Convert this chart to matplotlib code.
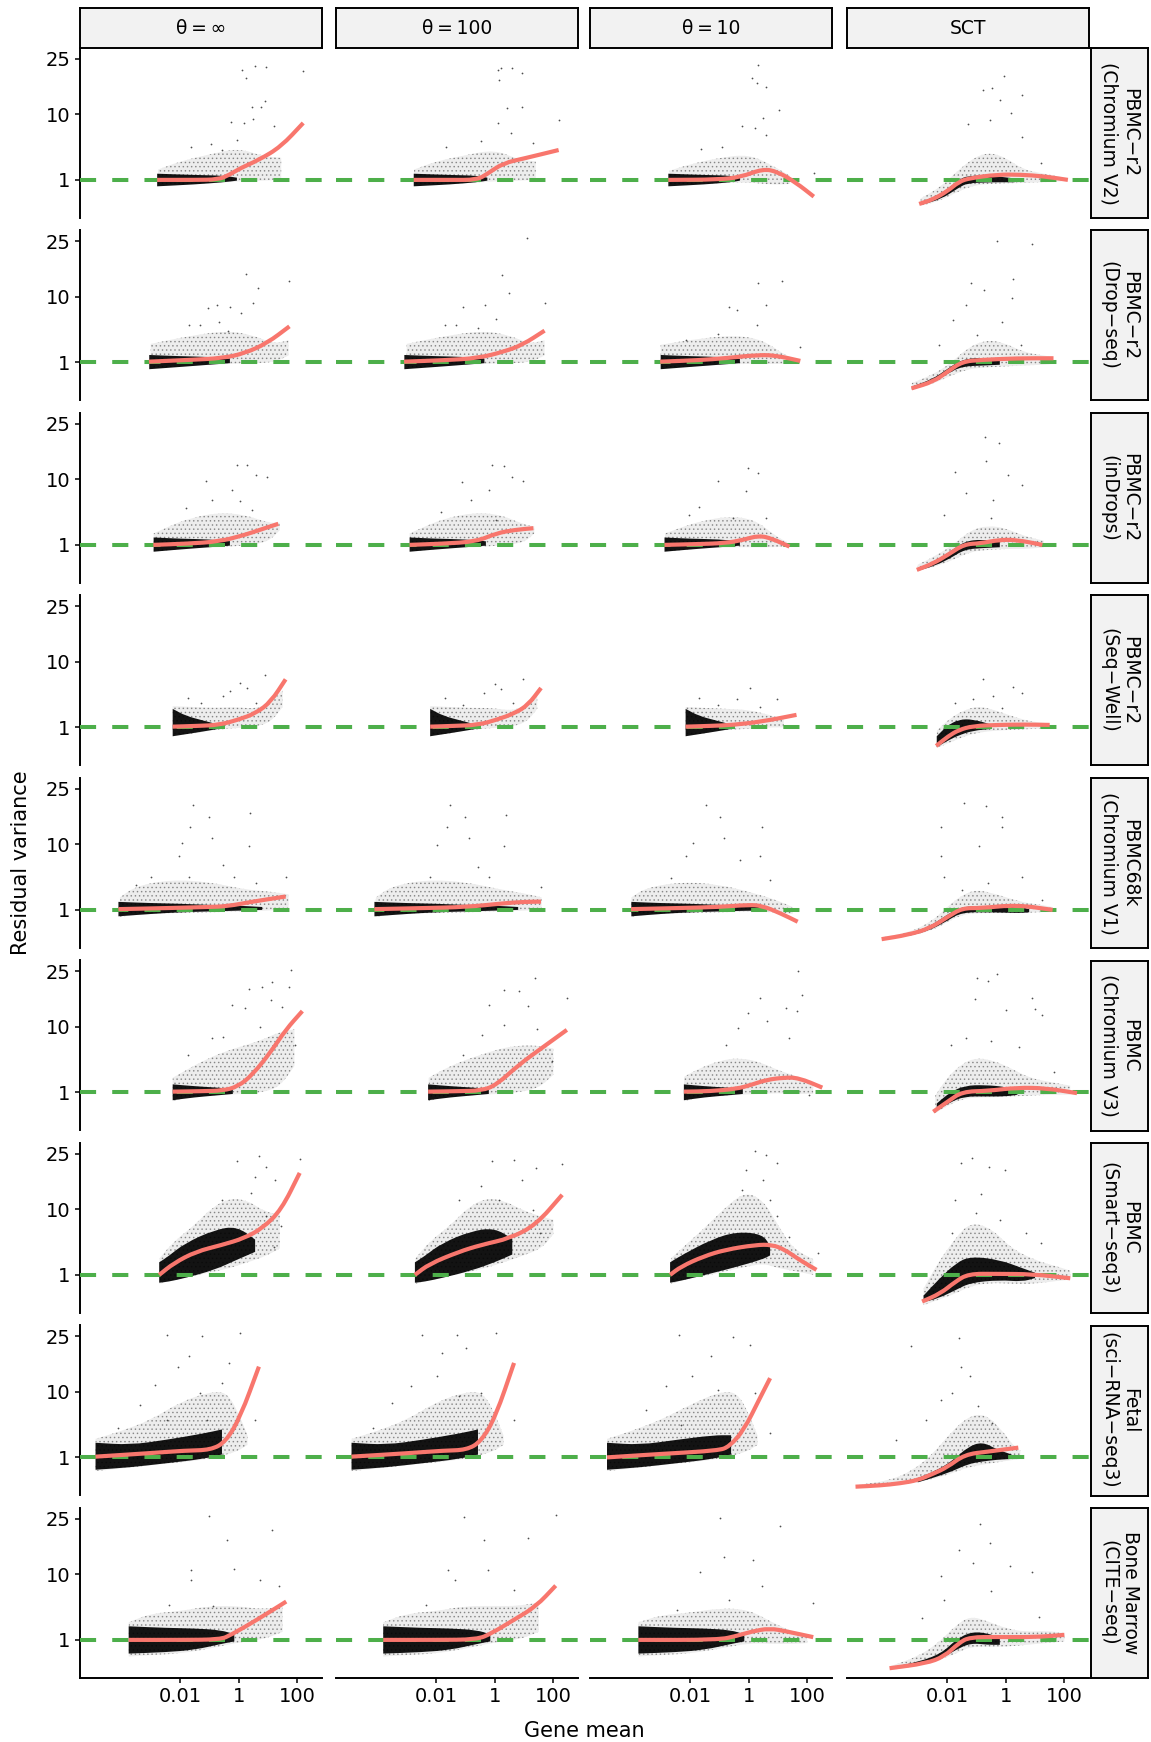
import matplotlib.pyplot as plt
import numpy as np
from matplotlib.ticker import NullLocator
from matplotlib.path import Path
from matplotlib.patches import PathPatch

plt.rcParams['font.family'] = ['DejaVu Sans']
plt.rcParams['hatch.linewidth'] = 0.6

col_labels = ['\u03b8\u2009=\u2009\u221e', '\u03b8\u2009=\u2009100', '\u03b8\u2009=\u200910', 'SCT']
row_labels = ['PBMC\u2212r2\n(Chromium V2)', 'PBMC\u2212r2\n(Drop\u2212seq)', 'PBMC\u2212r2\n(inDrops)',
              'PBMC\u2212r2\n(Seq\u2212Well)', 'PBMC68k\n(Chromium V1)', 'PBMC\n(Chromium V3)',
              'PBMC\n(Smart\u2212seq3)', 'Fetal\n(sci\u2212RNA\u2212seq3)', 'Bone Marrow\n(CITE\u2212seq)']
y_ticks = [1, 10, 25]
x_ticks = [0.01, 1, 100]
x_tick_labels = ['0.01', '1', '100']

# smooth fit (red line): log10 gene mean and residual variance, [row][col]
fit_logmean = [
    [[-2.78, -1.5, -0.7, -0.32, 0.06, 0.69, 1.44, 2.2], [-2.76, -1.5, -0.6, -0.22, 0.29, 1.04, 2.18],
     [-2.74, -1.04, -0.28, 0.48, 0.98, 1.61, 2.22], [-2.95, -2.5, -2.0, -1.59, -1.22, -0.3, 0.5, 1.3, 2.12]],
    [[-3.06, -1.68, -0.54, 0.21, 0.97, 1.73], [-3.09, -1.7, -0.57, 0.32, 0.95, 1.7],
     [-3.02, -1.7, -0.78, 0.33, 0.95, 1.76], [-3.21, -2.47, -1.97, -1.48, -0.86, 0.38, 1.63]],
    [[-2.91, -1.8, -0.67, 0.21, 0.72, 1.35], [-2.9, -1.8, -0.63, 0.06, 0.69, 1.32],
     [-2.87, -1.8, -0.8, -0.2, 0.35, 0.8, 1.39], [-3.03, -2.47, -1.97, -1.41, -0.86, -0.24, 0.38, 1.25]],
    [[-2.25, -1.4, -0.67, -0.03, 0.59, 1.1, 1.6], [-2.2, -1.4, -0.57, 0.06, 0.69, 1.14, 1.58],
     [-2.15, -1.3, -0.53, 0.45, 1.63], [-2.37, -1.97, -1.6, -1.1, -0.24, 0.6, 1.5]],
    [[-4.1, -2.5, -1.05, -0.4, 0.47, 1.6], [-4.1, -2.5, -0.94, 0.32, 1.0, 1.58],
     [-4.01, -2.5, -1.0, -0.04, 0.45, 1.08, 1.67], [-4.23, -3.34, -2.59, -1.97, -1.48, -0.86, 0.38, 1.6]],
    [[-2.25, -1.3, -0.54, -0.03, 0.47, 1.1, 1.6, 2.17], [-2.27, -1.3, -0.44, 0.06, 0.82, 1.58, 2.46],
     [-2.21, -1.3, -0.41, 0.09, 0.6, 1.2, 1.7, 2.51], [-2.47, -1.97, -1.48, -0.61, 0.38, 1.37, 2.43]],
    [[-2.71, -2.21, -1.46, -0.57, 0.19, 0.82, 1.45, 2.08], [-2.72, -2.23, -1.23, -0.47, 0.54, 1.42, 2.3],
     [-2.68, -2.3, -1.54, -0.79, 0.22, 0.79, 1.23, 1.73, 2.31], [-2.85, -2.22, -1.72, -1.27, -0.33, 0.93, 2.2]],
    [[-4.88, -3.09, -1.83, -0.95, -0.44, 0.06, 0.69], [-4.88, -2.99, -1.73, -0.97, -0.47, 0.03, 0.66],
     [-4.83, -2.93, -1.04, -0.66, -0.16, 0.35, 0.73], [-5.12, -4.3, -3.6, -3.0, -2.5, -2.0, -1.4, -0.6, 0.43]],
    [[-3.75, -2.0, -0.63, -0.26, 0.62, 1.62], [-3.8, -2.0, -0.6, -0.1, 0.65, 1.4, 2.08],
     [-3.76, -1.03, -0.41, 0.09, 0.71, 1.33, 2.2], [-3.96, -2.72, -2.1, -1.6, -1.23, -0.24, 1.0, 2.0]],
]
fit_resvar = [
    [[1.0, 1.0, 1.02, 1.36, 1.93, 2.76, 4.4, 8.3], [1.0, 1.0, 1.0, 1.49, 2.41, 2.95, 3.95],
     [1.0, 1.02, 1.19, 1.86, 1.62, 0.83, 0.2], [0.042, 0.12, 0.38, 0.89, 1.12, 1.38, 1.38, 1.25, 1.0]],
    [[1.05, 1.17, 1.3, 1.7, 2.68, 4.8], [1.05, 1.15, 1.3, 1.84, 2.5, 4.2],
     [1.05, 1.15, 1.3, 1.56, 1.5, 1.1], [0.02, 0.13, 0.49, 1.05, 1.17, 1.29, 1.29]],
    [[1.0, 1.08, 1.23, 1.77, 2.24, 2.88], [1.0, 1.08, 1.23, 1.92, 2.24, 2.41],
     [1.0, 1.05, 1.12, 1.35, 1.72, 1.45, 0.89], [0.03, 0.15, 0.45, 1.05, 1.1, 1.36, 1.36, 1.0]],
    [[1.05, 1.1, 1.17, 1.56, 2.16, 3.43, 6.7], [1.05, 1.1, 1.17, 1.56, 2.16, 3.05, 5.3],
     [1.05, 1.1, 1.17, 1.42, 2.0], [0.15, 0.49, 0.84, 1.1, 1.17, 1.2, 1.17]],
    [[1.05, 1.12, 1.2, 1.25, 1.62, 2.08], [1.05, 1.12, 1.2, 1.49, 1.6, 1.62],
     [1.05, 1.12, 1.2, 1.36, 1.3, 0.79, 0.37], [0.001, 0.03, 0.15, 0.6, 1.12, 1.12, 1.36, 1.0]],
    [[1.05, 1.08, 1.12, 1.42, 2.5, 5.5, 9.4, 13.6], [1.05, 1.08, 1.12, 1.56, 3.65, 6.0, 9.4],
     [1.05, 1.08, 1.25, 1.56, 2.0, 2.22, 2.2, 1.34], [0.13, 0.49, 1.05, 1.1, 1.34, 1.3, 0.95]],
    [[1.0, 1.93, 3.13, 3.96, 4.9, 6.5, 9.9, 19.1], [1.0, 1.85, 3.1, 3.96, 4.9, 7.1, 13.3],
     [1.0, 1.63, 2.6, 3.36, 3.96, 4.0, 3.36, 2.24, 1.36], [0.014, 0.15, 0.6, 1.07, 1.07, 1.05, 0.79]],
    [[1.05, 1.29, 1.5, 1.55, 2.3, 5.5, 16.0], [1.05, 1.29, 1.5, 1.55, 2.3, 5.5, 17.0],
     [1.0, 1.25, 1.5, 1.84, 3.65, 8.4, 13.1], [0.001, 0.005, 0.02, 0.06, 0.2, 0.45, 1.2, 1.42, 1.75]],
    [[1.0, 1.0, 1.02, 1.36, 2.76, 5.14], [1.0, 1.0, 1.02, 1.49, 2.76, 4.4, 7.8],
     [1.0, 1.0, 1.28, 1.62, 1.92, 1.62, 1.19], [0.004, 0.05, 0.2, 0.8, 1.19, 1.2, 1.19, 1.36]],
]

# dense core of the gene cloud: log10 mean with lower / upper residual variance
core_logmean = [
    [[-2.78, -1.5, -0.5, -0.06], [-2.76, -1.5, -0.6, -0.25], [-2.74, -1.5, -0.6, -0.3], [-2.9, -2.2, -1.6, -1.3, -0.5, 0.3]],
    [[-3.05, -2.0, -1.0, -0.3], [-3.08, -2.0, -1.0, -0.35], [-3.0, -2.0, -1.0, -0.3], [-3.2, -2.5, -2.0, -1.5, -0.8, -0.2]],
    [[-2.9, -2.0, -1.0, -0.3], [-2.9, -2.0, -1.0, -0.3], [-2.87, -2.0, -1.0, -0.3], [-3.0, -2.4, -1.9, -1.4, -0.8, -0.2]],
    [[-2.25, -1.8, -1.2, -0.7], [-2.2, -1.75, -1.15, -0.65], [-2.15, -1.7, -1.1, -0.6], [-2.35, -2.0, -1.6, -1.1, -0.5]],
    [[-4.1, -3.0, -2.0, -1.0, 0.0, 0.8], [-4.1, -3.0, -2.0, -1.0, 0.0, 0.8], [-4.0, -3.0, -2.0, -1.0, 0.0, 0.6],
     [-3.3, -2.6, -2.0, -1.5, -0.5, 0.5, 0.8]],
    [[-2.25, -1.5, -0.8, -0.2], [-2.27, -1.5, -0.8, -0.2], [-2.21, -1.5, -0.8, -0.2], [-2.35, -1.9, -1.4, -0.7, 0.0, 0.4]],
    [[-2.71, -2.4, -1.83, -0.82, -0.07, 0.56], [-2.72, -2.4, -1.8, -0.8, 0.0, 0.6], [-2.68, -2.3, -1.28, -0.41, 0.48, 0.73],
     [-2.8, -2.3, -1.7, -1.2, -0.2, 0.56, 1.0]],
    [[-4.88, -3.7, -2.46, -1.2, -0.57], [-4.88, -3.7, -2.46, -1.2, -0.57], [-4.83, -3.7, -2.46, -1.2, -0.6],
     [-3.0, -2.4, -1.8, -1.3, -0.8, -0.3, 0.2]],
    [[-3.75, -2.5, -1.5, -0.6, -0.15], [-3.8, -2.5, -1.5, -0.6, -0.15], [-3.76, -2.5, -1.5, -0.6, -0.15],
     [-3.9, -3.0, -2.2, -1.7, -1.2, -0.6, -0.2]],
]
core_lo = [
    [[0.62, 0.72, 0.85, 0.95], [0.62, 0.72, 0.85, 0.95], [0.62, 0.72, 0.85, 0.95], [0.03, 0.13, 0.55, 0.8, 0.85, 0.85]],
    [[0.6, 0.72, 0.85, 0.95], [0.6, 0.72, 0.85, 0.95], [0.6, 0.72, 0.85, 0.95], [0.01, 0.1, 0.38, 0.75, 0.8, 0.85]],
    [[0.6, 0.72, 0.85, 0.95], [0.6, 0.72, 0.85, 0.95], [0.6, 0.72, 0.85, 0.95], [0.02, 0.1, 0.3, 0.72, 0.8, 0.85]],
    [[0.5, 0.6, 0.75, 0.9], [0.5, 0.6, 0.75, 0.9], [0.5, 0.6, 0.75, 0.9], [0.12, 0.3, 0.55, 0.8, 0.9]],
    [[0.62, 0.75, 0.85, 0.9, 0.95, 1.0], [0.62, 0.75, 0.85, 0.9, 0.95, 1.0], [0.62, 0.75, 0.85, 0.9, 0.95, 0.95],
     [0.02, 0.1, 0.4, 0.85, 0.85, 0.8, 0.85]],
    [[0.55, 0.7, 0.8, 0.9], [0.55, 0.7, 0.8, 0.9], [0.55, 0.7, 0.8, 0.9], [0.15, 0.45, 0.75, 0.75, 0.75, 0.85]],
    [[0.55, 0.6, 0.8, 1.36, 2.24, 3.1], [0.55, 0.6, 0.8, 1.3, 2.0, 2.8], [0.55, 0.65, 1.1, 1.6, 2.3, 2.7],
     [0.01, 0.05, 0.25, 0.55, 0.69, 0.6, 0.8]],
    [[0.35, 0.45, 0.65, 0.9, 1.2], [0.35, 0.45, 0.65, 0.9, 1.2], [0.35, 0.45, 0.65, 0.9, 1.2],
     [0.03, 0.12, 0.3, 0.6, 0.75, 0.85, 0.9]],
    [[0.3, 0.35, 0.45, 0.75, 0.9], [0.3, 0.35, 0.45, 0.75, 0.9], [0.3, 0.35, 0.45, 0.75, 0.9],
     [0.003, 0.03, 0.14, 0.45, 0.8, 0.7, 0.7]],
]
core_hi = [
    [[1.45, 1.35, 1.3, 1.15], [1.45, 1.35, 1.3, 1.15], [1.45, 1.35, 1.3, 1.15], [0.07, 0.28, 1.0, 1.3, 1.3, 1.1]],
    [[1.55, 1.45, 1.4, 1.25], [1.55, 1.45, 1.4, 1.25], [1.55, 1.45, 1.4, 1.25], [0.04, 0.2, 0.6, 1.2, 1.35, 1.2]],
    [[1.55, 1.45, 1.4, 1.25], [1.55, 1.45, 1.4, 1.25], [1.55, 1.45, 1.4, 1.25], [0.05, 0.22, 0.6, 1.25, 1.4, 1.2]],
    [[2.6, 1.9, 1.5, 1.2], [2.6, 1.9, 1.5, 1.2], [2.6, 1.9, 1.5, 1.2], [0.5, 1.1, 1.6, 1.6, 1.2]],
    [[1.6, 1.5, 1.45, 1.35, 1.3, 1.2], [1.6, 1.5, 1.45, 1.35, 1.3, 1.2], [1.6, 1.5, 1.45, 1.35, 1.3, 1.2],
     [0.04, 0.2, 0.7, 1.25, 1.25, 1.2, 1.05]],
    [[1.6, 1.45, 1.35, 1.25], [1.6, 1.45, 1.35, 1.25], [1.6, 1.45, 1.35, 1.25], [0.4, 1.0, 1.5, 1.55, 1.4, 1.15]],
    [[2.0, 2.6, 4.2, 6.2, 6.8, 4.7], [2.0, 2.6, 4.2, 6.0, 6.5, 4.8], [2.0, 2.7, 4.7, 5.9, 5.5, 3.8],
     [0.1, 0.7, 1.93, 2.6, 2.24, 1.5, 1.15]],
    [[2.2, 2.0, 2.5, 3.2, 3.7], [2.2, 2.0, 2.5, 3.2, 3.7], [2.2, 2.0, 2.5, 3.0, 3.0],
     [0.1, 0.3, 0.8, 1.8, 2.3, 1.6, 1.2]],
    [[2.1, 1.95, 1.9, 1.75, 1.4], [2.1, 1.95, 1.9, 1.75, 1.4], [2.1, 1.95, 1.9, 1.75, 1.4],
     [0.01, 0.07, 0.3, 1.0, 1.6, 1.5, 1.1]],
]

# sparser spread of genes around the core
halo_logmean = [
    [[-2.75, -2.0, -1.0, 0.0, 0.8, 1.45], [-2.75, -2.0, -1.0, 0.0, 0.8, 1.4], [-2.7, -2.0, -1.0, 0.0, 0.8, 1.4],
     [-2.9, -2.2, -1.6, -1.0, -0.5, 0.0, 0.6, 1.2, 1.9]],
    [[-3.0, -1.7, -0.4, 0.5, 1.2, 1.7], [-3.0, -1.7, -0.4, 0.5, 1.2, 1.7], [-3.0, -1.7, -0.4, 0.5, 1.2, 1.5],
     [-3.2, -2.5, -1.9, -1.3, -0.7, -0.1, 0.6, 1.3, 1.6]],
    [[-2.9, -2.3, -1.7, -0.7, 0.2, 1.0, 1.4], [-2.9, -2.3, -1.7, -0.7, 0.2, 1.0, 1.35], [-2.85, -2.2, -1.6, -0.7, 0.2, 0.9, 1.3],
     [-3.0, -2.4, -1.8, -1.2, -0.6, 0.0, 0.6, 1.1, 1.3]],
    [[-2.25, -1.5, -0.8, -0.1, 0.6, 1.1, 1.5], [-2.2, -1.5, -0.8, -0.1, 0.6, 1.1, 1.45], [-2.15, -1.5, -0.8, 0.0, 0.7, 1.2],
     [-2.35, -1.9, -1.4, -0.9, -0.3, 0.3, 0.9, 1.4]],
    [[-4.05, -3.5, -2.3, -1.0, 0.2, 1.0, 1.7], [-4.05, -3.5, -2.3, -1.0, 0.2, 1.0, 1.6], [-4.0, -3.5, -2.3, -1.0, 0.2, 0.9, 1.5],
     [-4.2, -3.3, -2.5, -2.0, -1.5, -1.0, -0.3, 0.5, 1.1, 1.6]],
    [[-2.25, -1.8, -1.2, -0.5, 0.2, 0.8, 1.4, 1.9], [-2.25, -1.8, -1.2, -0.5, 0.2, 0.8, 1.5, 2.0],
     [-2.2, -1.7, -1.0, -0.3, 0.4, 1.0, 1.6, 2.2], [-2.4, -2.0, -1.5, -1.0, -0.4, 0.2, 0.8, 1.5, 2.2]],
    [[-2.7, -2.2, -1.5, -0.9, -0.3, 0.3, 0.9, 1.4], [-2.7, -2.2, -1.5, -0.9, -0.3, 0.3, 0.9, 1.6, 2.0],
     [-2.65, -2.0, -1.3, -0.7, -0.1, 0.5, 1.0, 1.5, 2.2], [-2.8, -2.3, -1.7, -1.2, -0.5, 0.2, 1.0, 1.8, 2.2]],
    [[-4.88, -4.0, -3.0, -2.0, -1.0, -0.4, 0.0, 0.3], [-4.88, -4.0, -3.0, -2.0, -1.0, -0.4, 0.0, 0.3],
     [-4.83, -4.0, -3.0, -2.0, -1.0, -0.4, 0.0, 0.3], [-5.0, -4.0, -3.2, -2.5, -1.9, -1.3, -0.7, -0.1, 0.3, 0.5]],
    [[-3.75, -3.0, -2.0, -1.0, 0.0, 0.8, 1.5], [-3.8, -3.0, -2.0, -1.0, 0.0, 0.8, 1.5],
     [-3.76, -3.0, -2.0, -1.0, 0.0, 0.8, 1.5, 2.0], [-3.9, -3.0, -2.3, -1.7, -1.2, -0.6, 0.0, 0.7, 1.4, 2.0]],
]
halo_lo = [
    [[0.7, 0.75, 0.8, 0.9, 0.95, 1.0], [0.7, 0.75, 0.8, 0.9, 0.95, 1.0], [0.7, 0.75, 0.8, 0.85, 0.7, 0.75],
     [0.02, 0.1, 0.4, 0.7, 0.75, 0.8, 0.8, 0.85, 0.9]],
    [[0.65, 0.8, 0.9, 0.95, 1.0, 1.5], [0.65, 0.8, 0.9, 0.95, 1.0, 1.5], [0.65, 0.8, 0.9, 0.9, 0.9, 0.95],
     [0.01, 0.08, 0.3, 0.6, 0.7, 0.75, 0.8, 0.85, 0.9]],
    [[0.6, 0.7, 0.8, 0.85, 0.95, 1.2, 2.2], [0.6, 0.7, 0.8, 0.85, 0.95, 1.15, 1.9], [0.6, 0.7, 0.8, 0.85, 0.85, 0.85, 0.9],
     [0.02, 0.08, 0.25, 0.6, 0.7, 0.75, 0.75, 0.8, 0.85]],
    [[0.5, 0.65, 0.85, 0.95, 1.05, 1.4, 2.8], [0.5, 0.65, 0.85, 0.95, 1.05, 1.4, 2.6], [0.5, 0.65, 0.85, 0.9, 1.0, 1.0],
     [0.1, 0.25, 0.5, 0.7, 0.8, 0.85, 0.9, 0.95]],
    [[0.6, 0.7, 0.8, 0.85, 0.9, 0.95, 1.05], [0.6, 0.7, 0.8, 0.85, 0.9, 0.95, 1.0], [0.6, 0.7, 0.8, 0.85, 0.9, 0.85, 0.75],
     [0.0, 0.02, 0.1, 0.35, 0.7, 0.8, 0.8, 0.8, 0.85, 0.9]],
    [[0.5, 0.7, 0.8, 0.85, 0.9, 1.0, 1.4, 3.5], [0.5, 0.7, 0.8, 0.85, 0.9, 1.0, 1.3, 2.5],
     [0.5, 0.7, 0.8, 0.85, 0.9, 0.95, 0.9, 0.9], [0.1, 0.3, 0.6, 0.7, 0.7, 0.75, 0.8, 0.85, 0.85]],
    [[0.5, 0.7, 0.95, 1.2, 1.5, 2.0, 2.6, 3.5], [0.5, 0.7, 0.95, 1.2, 1.5, 2.0, 2.6, 3.5, 5.5],
     [0.5, 0.8, 1.0, 1.3, 1.6, 1.9, 1.5, 1.3, 1.0], [0.0, 0.03, 0.15, 0.4, 0.55, 0.5, 0.5, 0.65, 0.7]],
    [[0.3, 0.4, 0.55, 0.7, 0.9, 1.2, 1.5, 2.0], [0.3, 0.4, 0.55, 0.7, 0.9, 1.2, 1.5, 2.0],
     [0.3, 0.4, 0.55, 0.7, 0.9, 1.2, 1.5, 2.0], [0.0, 0.003, 0.02, 0.08, 0.2, 0.45, 0.6, 0.75, 0.85, 0.9]],
    [[0.2, 0.25, 0.3, 0.5, 0.85, 1.0, 1.6], [0.2, 0.25, 0.3, 0.5, 0.85, 1.0, 1.6],
     [0.2, 0.25, 0.3, 0.5, 0.8, 0.75, 0.75, 0.8], [0.0, 0.02, 0.1, 0.3, 0.6, 0.6, 0.6, 0.7, 0.8, 0.9]],
]
halo_hi = [
    [[1.8, 2.6, 3.4, 4.2, 3.2, 3.0], [1.8, 2.6, 3.3, 4.0, 2.8, 2.6], [1.7, 2.3, 3.0, 3.4, 2.2, 1.3],
     [0.15, 0.6, 1.8, 3.2, 3.6, 3.0, 1.8, 1.5, 1.2]],
    [[2.6, 3.5, 4.2, 3.6, 2.6, 3.0], [2.6, 3.5, 4.2, 3.6, 2.6, 3.0], [2.5, 3.2, 3.6, 3.0, 1.6, 1.3],
     [0.1, 0.35, 0.9, 2.2, 3.0, 2.8, 1.8, 1.5, 1.4]],
    [[1.9, 2.7, 3.5, 4.3, 4.0, 3.0, 3.0], [1.9, 2.7, 3.5, 4.3, 4.0, 2.8, 2.6], [1.9, 2.6, 3.2, 3.8, 3.4, 1.7, 1.2],
     [0.12, 0.4, 1.0, 2.2, 2.7, 2.4, 1.7, 1.4, 1.3]],
    [[2.9, 2.8, 2.7, 2.8, 2.6, 3.4, 5.0], [2.9, 2.8, 2.7, 2.7, 2.4, 3.0, 4.2], [2.8, 2.7, 2.6, 2.5, 2.0, 1.6],
     [0.8, 1.7, 2.5, 2.9, 2.4, 1.8, 1.4, 1.3]],
    [[2.0, 3.2, 4.0, 3.7, 2.8, 2.6, 2.3], [2.0, 3.2, 4.0, 3.7, 2.8, 2.4, 2.0], [2.0, 3.0, 3.7, 3.4, 2.4, 1.8, 1.2],
     [0.01, 0.06, 0.4, 1.2, 2.2, 2.8, 2.3, 1.6, 1.4, 1.2]],
    [[2.2, 3.0, 4.2, 5.5, 6.5, 7.5, 9.0, 9.5], [2.2, 3.0, 4.0, 5.0, 6.0, 6.5, 6.5, 6.0],
     [2.3, 3.2, 4.2, 4.6, 4.0, 3.0, 2.4, 1.6], [0.8, 2.2, 3.8, 4.6, 4.2, 3.2, 2.2, 1.8, 1.5]],
    [[2.4, 4.5, 7.0, 10.5, 12.5, 12.0, 9.5, 9.0], [2.4, 4.5, 7.0, 10.5, 12.5, 12.0, 10.0, 8.5, 8.0],
     [2.4, 4.5, 7.5, 11.0, 14.0, 12.0, 7.0, 3.5, 2.3], [0.3, 2.0, 5.0, 7.5, 6.5, 3.5, 2.2, 1.6, 1.3]],
    [[2.6, 3.5, 5.0, 8.0, 10.0, 10.0, 6.0, 3.0], [2.6, 3.5, 5.0, 8.0, 10.0, 10.0, 6.0, 3.0],
     [2.6, 3.5, 5.0, 7.5, 10.0, 10.0, 6.0, 3.0], [0.01, 0.05, 0.3, 1.2, 3.2, 5.5, 6.0, 3.5, 1.8, 1.5]],
    [[2.5, 3.5, 3.8, 4.5, 4.5, 4.0, 4.5], [2.5, 3.5, 3.8, 4.5, 4.5, 4.5, 5.0],
     [2.5, 3.3, 3.6, 4.2, 4.0, 2.5, 1.6, 1.3], [0.02, 0.2, 0.8, 2.2, 3.2, 2.6, 1.9, 1.6, 1.7, 1.5]],
]

# isolated genes far from the cloud: (log10 mean, residual variance)
outliers = [
    [[(0.12, 21.5), (0.57, 22.8), (0.94, 22.5), (2.2, 21.3), (0.25, 19.1), (0.88, 12.9), (0.44, 11.7), (0.75, 11.7),
      (-0.26, 8.5), (0.19, 8.3), (0.5, 9.1), (1.2, 7.7), (-1.64, 4.4), (-0.95, 4.8), (-0.06, 5.4), (-0.57, 4.0)],
     [(0.1, 21.5), (0.21, 22.0), (0.6, 22.0), (0.92, 20.5), (0.16, 18.6), (0.41, 11.4), (0.92, 11.7), (0.1, 8.3),
      (0.54, 6.5), (2.18, 8.9), (1.29, 4.9), (-1.67, 4.4), (-0.47, 5.2)],
     [(0.31, 22.9), (0.12, 19.1), (0.29, 17.6), (0.6, 16.6), (1.04, 11.0), (0.48, 9.2), (-0.22, 7.7), (0.22, 7.4),
      (0.6, 6.2), (-1.61, 4.1), (-0.91, 4.4), (2.24, 1.49)],
     [(-0.06, 19.7), (-0.77, 15.8), (-0.2, 13.3), (0.56, 14.5), (-0.45, 16.3), (-1.27, 8.2), (0.18, 10.3), (0.56, 5.9),
      (1.19, 2.4), (-0.52, 8.9)]],
    [[(0.25, 15.4), (0.66, 12.0), (0.49, 8.8), (1.7, 13.7), (-1.05, 7.8), (-0.73, 8.4), (-0.29, 8.1), (0.09, 6.9),
      (-1.68, 5.0), (-1.33, 5.0), (-0.67, 5.5), (-0.35, 4.1)],
     [(1.1, 26.1), (0.25, 15.2), (0.5, 10.8), (1.7, 8.8), (-1.08, 8.1), (-0.32, 8.4), (0.06, 6.0), (-1.7, 5.0),
      (-1.33, 5.0), (-0.57, 4.5)],
     [(0.33, 13.1), (1.14, 13.7), (0.58, 8.4), (-0.66, 8.1), (-0.41, 7.5), (0.27, 5.0), (-1.03, 3.7), (-2.15, 3.05),
      (1.76, 2.3)],
     [(-0.3, 25.2), (0.88, 24.1), (0.26, 14.1), (-1.17, 13.1), (-0.73, 11.6), (-1.35, 8.4), (0.2, 9.8), (-0.11, 5.5),
      (-1.79, 5.8), (-2.28, 2.5), (0.51, 2.5), (-0.98, 3.65)]],
    [[(-0.07, 13.3), (0.27, 13.3), (0.59, 11.0), (0.97, 10.6), (-1.11, 9.6), (-1.8, 4.9), (-0.23, 7.9), (-0.92, 6.1),
      (0.03, 6.0), (0.47, 4.7)],
     [(-0.09, 13.3), (0.32, 12.9), (0.59, 10.5), (0.97, 9.6), (-1.13, 9.5), (-0.82, 6.1), (-0.19, 7.9), (0.06, 3.35),
      (-1.83, 4.4)],
     [(-0.02, 12.5), (0.33, 11.4), (-1.03, 9.6), (-0.1, 7.7), (-1.71, 5.1), (0.58, 3.55), (-0.53, 3.55), (-2.03, 4.0)],
     [(-0.7, 20.9), (-0.24, 19.1), (-1.73, 11.6), (-0.67, 14.3), (0.07, 11.0), (0.57, 8.9), (-1.35, 7.4), (-0.42, 6.2),
      (-0.49, 3.55), (-2.1, 4.0), (1.0, 1.2)]],
    [[(0.9, 7.5), (0.27, 5.3), (0.03, 6.1), (-0.29, 4.8), (-0.54, 4.1), (-1.74, 3.9), (-1.3, 3.24), (0.59, 3.24)],
     [(0.95, 6.7), (0.0, 6.0), (0.2, 5.2), (-0.38, 4.5), (-1.7, 3.9), (-1.07, 3.05), (0.62, 3.24)],
     [(0.06, 5.3), (0.95, 3.74), (-0.41, 3.7), (-1.71, 3.9), (0.39, 2.85), (-1.03, 3.0)],
     [(-0.76, 6.7), (-0.42, 4.1), (0.57, 4.5), (-1.73, 3.24), (-1.1, 3.7), (-0.11, 2.68), (0.24, 5.5)]],
    [[(-1.55, 20.0), (-1.02, 16.7), (0.4, 17.7), (-1.65, 14.1), (-1.93, 10.3), (-0.9, 11.4), (0.34, 9.6), (-2.05, 7.7),
      (-0.54, 6.2), (-1.68, 4.4), (-3.0, 4.4), (1.6, 4.4), (-0.16, 4.4), (0.59, 3.55), (-3.5, 3.35)],
     [(-1.54, 20.0), (-1.01, 16.7), (0.38, 17.2), (-1.64, 14.1), (-1.95, 9.9), (-0.88, 11.4), (0.32, 9.6), (-0.57, 5.9),
      (-2.2, 4.4), (1.58, 3.1), (-0.19, 4.4)],
     [(-1.47, 20.0), (-0.97, 16.7), (0.45, 14.1), (-0.85, 11.4), (-2.15, 7.7), (-0.29, 7.1), (-1.9, 10.3), (0.39, 7.7),
      (-2.65, 4.2), (0.71, 4.0)],
     [(-1.41, 20.5), (-0.67, 19.7), (-0.11, 16.7), (-2.22, 14.1), (-0.92, 9.6), (-0.11, 14.1), (0.57, 4.4), (-2.1, 4.4),
      (-1.48, 2.75), (-0.61, 3.55), (-2.22, 7.7), (1.25, 1.77)]],
    [[(1.79, 25.6), (0.78, 20.0), (0.34, 19.6), (1.12, 21.6), (1.73, 20.0), (1.1, 16.5), (-0.23, 15.2), (0.21, 14.4),
      (1.47, 14.7), (-0.54, 8.1), (-0.92, 7.8), (0.72, 10.1), (1.92, 6.6), (-1.74, 5.0)],
     [(1.39, 22.9), (0.32, 19.3), (0.82, 18.9), (-0.19, 15.2), (1.14, 14.8), (2.46, 17.0), (0.32, 10.5), (-0.44, 8.3),
      (1.45, 9.6), (1.95, 4.1), (-1.07, 5.0)],
     [(1.67, 25.0), (1.82, 17.9), (0.4, 17.0), (1.27, 14.4), (-0.04, 13.1), (1.63, 13.5), (1.39, 7.8), (-0.35, 9.8),
      (-0.78, 6.6), (2.07, 0.84), (0.64, 11.2)],
     [(-0.98, 22.9), (-0.61, 22.0), (-0.3, 24.0), (0.88, 17.0), (-1.04, 16.8), (0.01, 13.8), (1.0, 14.2), (-1.35, 7.8),
      (-0.49, 7.2), (0.45, 6.3), (-1.85, 6.6), (1.63, 2.85), (1.25, 12.6)]],
    [[(-0.07, 22.6), (0.69, 24.2), (0.94, 21.0), (2.08, 23.3), (1.25, 17.2), (0.56, 17.9), (-0.57, 12.1), (1.57, 12.1),
      (0.43, 13.7), (0.94, 8.6), (1.45, 6.8), (1.2, 3.75)],
     [(-0.09, 22.6), (0.66, 23.1), (1.42, 20.5), (2.3, 21.7), (-0.47, 15.4), (0.16, 12.1), (0.92, 17.2), (-1.23, 12.1),
      (1.29, 9.9), (1.54, 5.7)],
     [(0.22, 25.8), (0.6, 24.7), (-0.09, 20.0), (0.98, 22.0), (0.48, 17.2), (-0.22, 14.5), (0.73, 12.1), (1.36, 5.1),
      (2.37, 2.95), (0.98, 8.6)],
     [(-1.53, 22.0), (-1.15, 23.6), (-0.58, 21.0), (-0.01, 20.0), (-1.72, 12.1), (-0.83, 13.5), (-1.84, 5.7), (-1.02, 9.2),
      (-0.2, 8.0), (1.19, 4.2), (0.68, 5.7)]],
    [[(-2.46, 25.6), (-1.26, 25.0), (0.06, 26.1), (-1.7, 18.8), (-2.84, 11.6), (-2.08, 16.0), (-3.35, 7.5), (-1.33, 9.8),
      (-0.57, 12.0), (-2.46, 5.0), (-4.1, 3.87), (-1.07, 5.0), (0.56, 5.0), (-0.32, 17.0)],
     [(-2.48, 25.6), (-1.29, 25.6), (0.03, 26.0), (-1.79, 19.8), (-0.97, 21.3), (-2.86, 11.2), (-1.98, 13.5), (-3.49, 7.8),
      (-1.23, 9.1), (-0.47, 9.8), (0.66, 5.0), (-4.16, 3.9)],
     [(-2.36, 25.6), (-0.53, 24.8), (0.04, 22.3), (-1.29, 18.8), (-2.81, 11.2), (-1.92, 13.5), (-1.04, 10.5), (0.22, 9.8),
      (-3.5, 6.6), (0.73, 3.24), (-2.3, 4.3)],
     [(-1.59, 24.5), (-1.53, 16.0), (-1.84, 9.8), (-2.22, 8.4), (-3.23, 21.8), (-1.21, 13.5), (-0.96, 7.2), (-3.74, 2.5),
      (-0.45, 4.5), (-2.73, 5.0)]],
    [[(-1.0, 25.8), (1.12, 21.5), (-0.39, 18.6), (-1.63, 11.0), (-0.15, 11.2), (-1.63, 8.9), (0.74, 8.9), (-2.38, 4.67),
      (-0.88, 4.5), (1.37, 7.7)],
     [(-1.05, 25.6), (2.08, 26.4), (1.15, 19.1), (-0.35, 18.6), (-1.6, 11.0), (-0.22, 11.0), (-1.35, 8.9), (0.65, 7.1),
      (-2.35, 4.67)],
     [(-0.97, 25.3), (1.08, 22.6), (0.14, 13.3), (-1.65, 10.6), (-0.85, 14.1), (2.2, 4.9), (0.45, 7.7), (-2.46, 4.0),
      (-0.66, 5.4)],
     [(-0.86, 23.4), (-0.55, 17.6), (-1.6, 15.8), (-1.1, 12.5), (-2.22, 9.6), (0.14, 11.8), (0.88, 10.6), (-0.49, 6.8),
      (-2.84, 2.95), (1.13, 3.1), (-2.1, 5.4)]],
]


def sqrt_fwd(v):
    v = np.asarray(v, dtype=float)
    return np.sign(v) * np.sqrt(np.abs(v))


def sqrt_inv(s):
    s = np.asarray(s, dtype=float)
    return np.sign(s) * s ** 2


def smooth_verts(logx, v):
    # quadratic bezier through the segment midpoints, built in log-x / sqrt-y space
    lx = np.asarray(logx, dtype=float)
    sy = sqrt_fwd(v)
    verts = [(lx[0], sy[0])]
    codes = [Path.MOVETO]
    if len(lx) > 2:
        mx = (lx[:-1] + lx[1:]) / 2
        my = (sy[:-1] + sy[1:]) / 2
        verts.append((mx[0], my[0]))
        codes.append(Path.LINETO)
        for i in range(1, len(lx) - 1):
            verts += [(lx[i], sy[i]), (mx[i], my[i])]
            codes += [Path.CURVE3, Path.CURVE3]
    verts.append((lx[-1], sy[-1]))
    codes.append(Path.LINETO)
    verts = np.array(verts)
    return np.column_stack([10 ** verts[:, 0], sqrt_inv(verts[:, 1])]), codes


def smooth_line(ax, logx, v, **kw):
    verts, codes = smooth_verts(logx, v)
    ax.add_patch(PathPatch(Path(verts, codes), facecolor='none', **kw))


def smooth_band(ax, logx, lo, hi, **kw):
    up_v, up_c = smooth_verts(logx, hi)
    dn_v, dn_c = smooth_verts(logx[::-1], lo[::-1])
    dn_c = [Path.LINETO] + dn_c[1:]
    verts = np.vstack([up_v, dn_v, up_v[:1]])
    codes = up_c + dn_c + [Path.CLOSEPOLY]
    ax.add_patch(PathPatch(Path(verts, codes), **kw))


W, H = 1151, 1742
fig = plt.figure(figsize=(W / 100, H / 100), dpi=100)

col_left = [80, 336, 590, 847]
panel_w = 242
panel_h = 170
row_step = 182.5
top0 = 48


def px_axes(x, y, w, h):
    return fig.add_axes([x / W, 1 - (y + h) / H, w / W, h / H])


def strip_style(sax):
    sax.set_facecolor('#F2F2F2')
    sax.set_xticks([])
    sax.set_yticks([])
    for sp in sax.spines.values():
        sp.set_linewidth(1.4)
        sp.set_color('black')


for r in range(9):
    top = top0 + r * row_step
    for c in range(4):
        ax = px_axes(col_left[c], top, panel_w, panel_h)
        ax.set_xscale('log')
        ax.set_yscale('function', functions=(sqrt_fwd, sqrt_inv))
        ax.set_xlim(10 ** -5.41, 10 ** 2.84)
        ax.set_ylim(sqrt_inv(-0.26), sqrt_inv(5.36))

        # spread of genes: faint haze plus speckle
        smooth_band(ax, np.array(halo_logmean[r][c]), np.array(halo_lo[r][c]), np.array(halo_hi[r][c]),
                    facecolor='black', alpha=0.07, lw=0, zorder=1)
        smooth_band(ax, np.array(halo_logmean[r][c]), np.array(halo_lo[r][c]), np.array(halo_hi[r][c]),
                    facecolor='none', edgecolor='#555555', hatch='....', lw=0, alpha=0.55, zorder=1.2)
        smooth_band(ax, np.array(core_logmean[r][c]), np.array(core_lo[r][c]), np.array(core_hi[r][c]),
                    facecolor='black', edgecolor='none', alpha=0.92, lw=0, zorder=2)
        pts = np.array(outliers[r][c])
        ax.scatter(10 ** pts[:, 0], pts[:, 1], s=1.6, color='#222222', lw=0, alpha=0.8, zorder=2.5)

        ax.axhline(1, color='#4DAF4A', lw=2.9, ls=(0, (4, 4)), zorder=3)
        smooth_line(ax, fit_logmean[r][c], fit_resvar[r][c], edgecolor='#F8766D', lw=3.0,
                    capstyle='butt', zorder=4)

        ax.xaxis.set_minor_locator(NullLocator())
        ax.yaxis.set_minor_locator(NullLocator())

        for side in ['top', 'right']:
            ax.spines[side].set_visible(False)
        ax.spines['left'].set_visible(c == 0)
        ax.spines['bottom'].set_visible(r == 8)
        ax.spines['left'].set_linewidth(1.4)
        ax.spines['bottom'].set_linewidth(1.4)

        ax.set_yticks(y_ticks)
        ax.set_yticklabels([str(t) for t in y_ticks])
        ax.set_xticks(x_ticks)
        ax.set_xticklabels(x_tick_labels)
        ax.tick_params(axis='both', length=3.8, width=1.1, labelsize=14, pad=3, colors='black')
        if c != 0:
            ax.tick_params(axis='y', left=False, labelleft=False)
        if r != 8:
            ax.tick_params(axis='x', bottom=False, labelbottom=False)

    # row strip on the right
    sax = px_axes(1091, top, 57, panel_h)
    strip_style(sax)
    sax.text(0.5, 0.5, row_labels[r], rotation=-90, ha='center', va='center', multialignment='center',
             fontsize=13.5, linespacing=1.15, transform=sax.transAxes)

for c in range(4):
    sax = px_axes(col_left[c], 8, panel_w, 40)
    strip_style(sax)
    sax.text(0.5, 0.5, col_labels[c], ha='center', va='center', fontsize=13.5, transform=sax.transAxes)

fig.text(21 / W, 1 - 863 / H, 'Residual variance', rotation=90, ha='center', va='center', fontsize=15)
fig.text(584.5 / W, 1 - 1737 / H, 'Gene mean', ha='center', va='baseline', fontsize=15)

fig.savefig('out.png', dpi=100)
